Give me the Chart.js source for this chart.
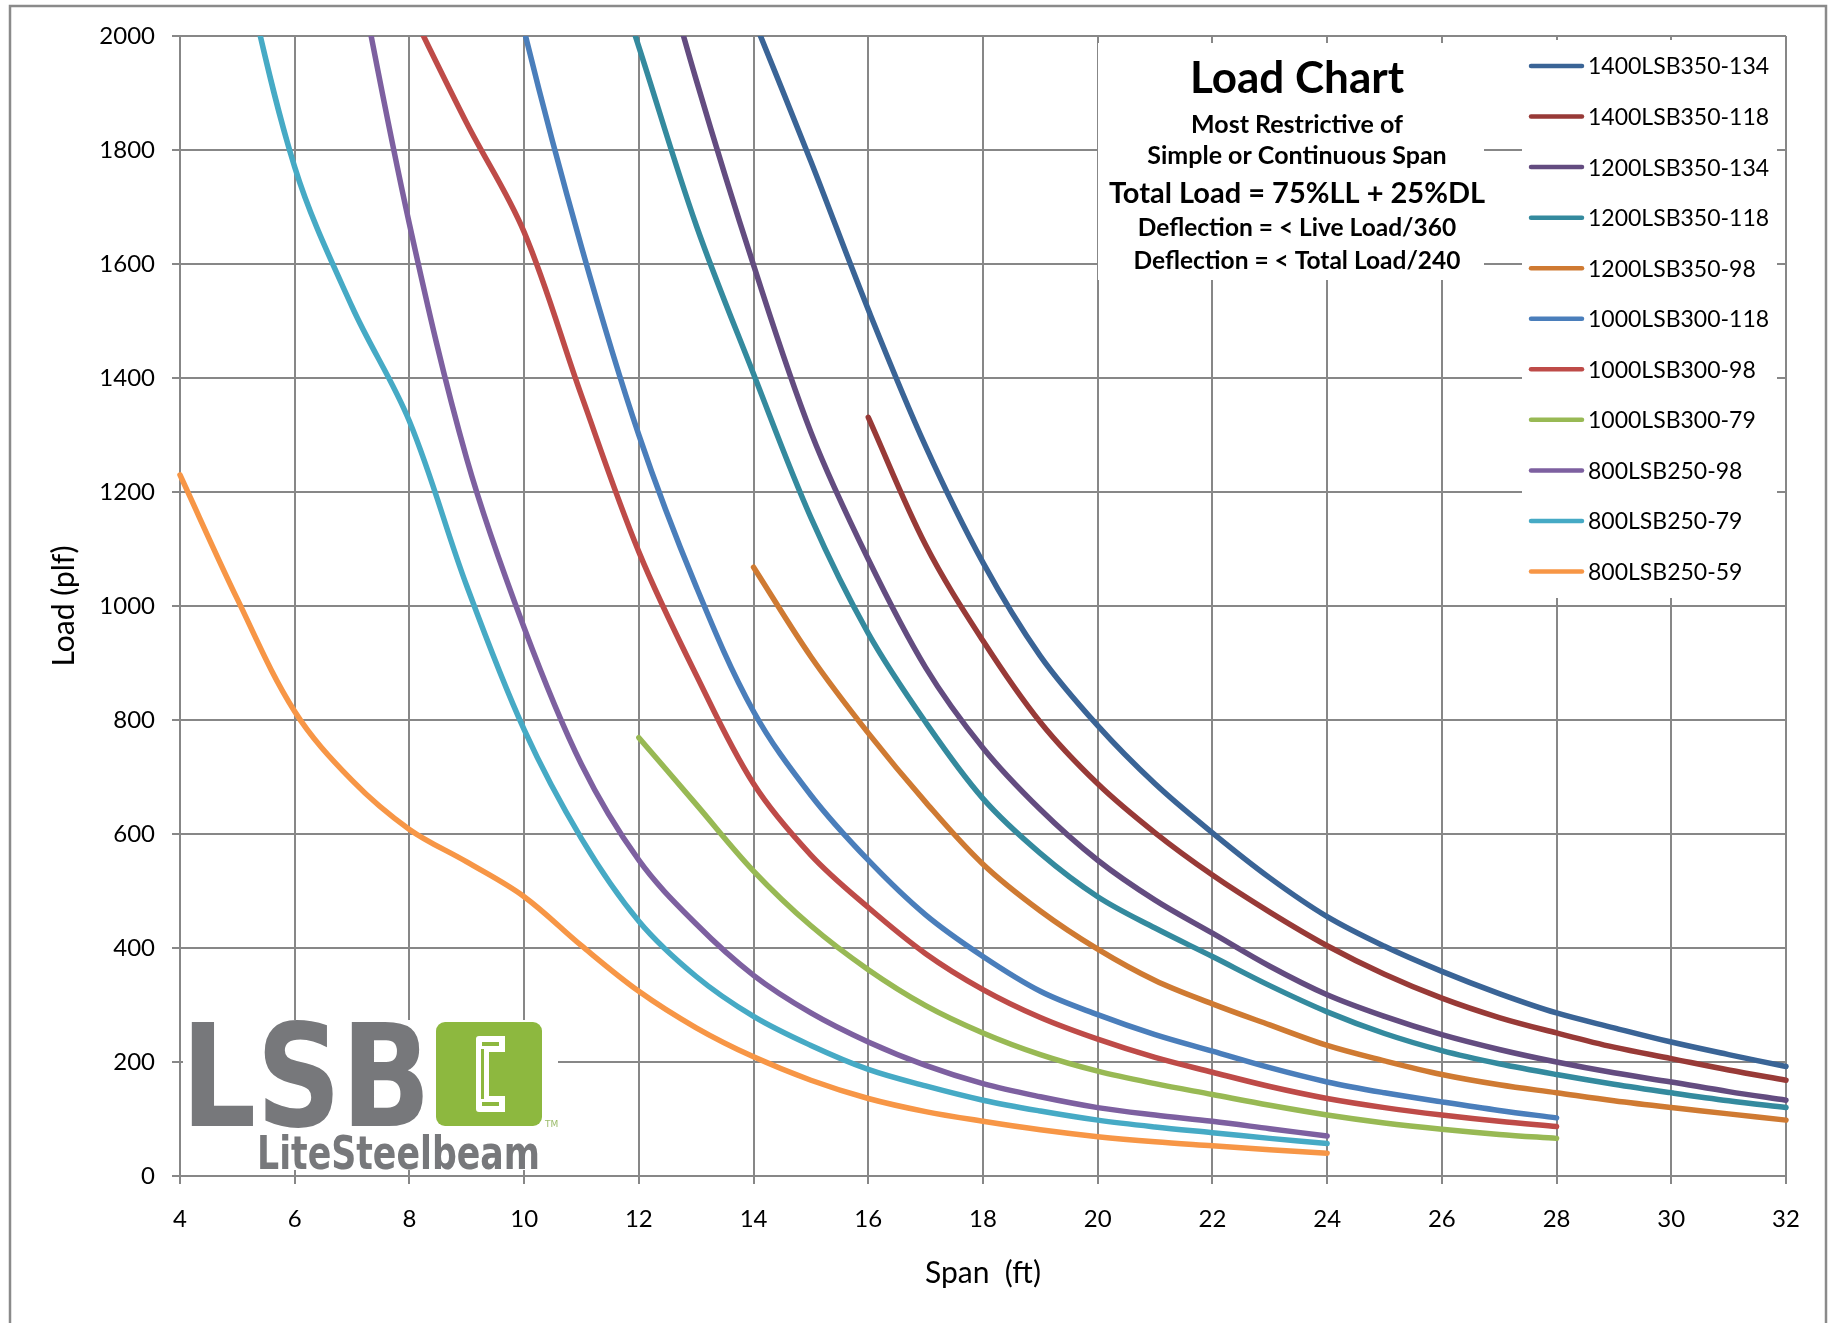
<!DOCTYPE html>
<html>
<head>
<meta charset="utf-8">
<script src="https://cdn.jsdelivr.net/npm/chart.js@4.4.1/dist/chart.umd.min.js"></script>
<style>
    html, body { margin: 0; padding: 0; background: #fff; }
    canvas { display: block; }
</style>
</head>
<body>
<canvas id="grafico-carga" width="1835" height="1323"></canvas>
<script>

const vaos = [4, 5, 6, 7, 8, 9, 10, 11, 12, 13, 14, 15, 16, 17, 18, 19, 20, 21, 22, 23, 24, 25, 26, 27, 28, 29, 30, 31, 32];

const rotulos = ['1400LSB350-134', '1400LSB350-118', '1200LSB350-134', '1200LSB350-118', '1200LSB350-98',
    '1000LSB300-118', '1000LSB300-98', '1000LSB300-79', '800LSB250-98', '800LSB250-79', '800LSB250-59'];

const cores = ['#3a6496', '#983a37', '#634c80', '#348a9e', '#cf7a32',
    '#4a7ebb', '#be4b48', '#98b954', '#7d60a0', '#46aac5', '#f79646'];

const yTicks = [0, 200, 400, 600, 800, 1000, 1200, 1400, 1600, 1800, 2000];

const carga1400_134 = [null, null, null, null, null, null, null, null, null, null,
    2030, 1780, 1520, 1280, 1076, 912, 790, 688, 602, 523, 455, 403, 359, 320, 286, 260, 235, 213, 192];
const carga1400_118 = [null, null, null, null, null, null, null, null, null, null, null, null,
    1331, 1107, 939, 796, 688, 602, 528, 463, 404, 354, 312, 278, 251, 226, 206, 186, 168];
const carga1200_134 = [null, null, null, null, null, null, null, null,
    2280, 1923, 1598, 1305, 1082, 892, 751, 643, 554, 484, 426, 368, 318, 280, 248, 222, 200, 181, 165, 148, 133];
const carga1200_118 = [null, null, null, null, null, null, null,
    2290, 1981, 1668, 1407, 1155, 952, 796, 662, 566, 490, 435, 385, 334, 288, 250, 220, 197, 178, 161, 146, 132, 120];
const carga1200_98 = [null, null, null, null, null, null, null, null, null, null,
    1068, 911, 777, 656, 547, 465, 398, 343, 302, 265, 229, 202, 178, 160, 146, 132, 120, 109, 98];
const carga1000_118 = [null, null, null, null, null,
    2450, 2010, 1630, 1300, 1034, 815, 668, 554, 458, 385, 324, 283, 248, 219, 190, 165, 146, 130, 115, 102,
    null, null, null, null];
const carga1000_98 = [null, null, null, null,
    2050, 1847, 1656, 1369, 1095, 879, 688, 563, 471, 390, 327, 278, 240, 208, 182, 157, 136, 120, 107, 96, 87,
    null, null, null, null];
const carga1000_79 = [null, null, null, null, null, null, null, null,
    769, 652, 535, 439, 362, 299, 251, 213, 184, 162, 143, 124, 107, 93, 82, 73, 66,
    null, null, null, null];
const carga800_98 = [null, null, null,
    2170, 1670, 1258, 962, 722, 554, 442, 352, 286, 235, 194, 162, 139, 120, 107, 96, 83, 70,
    null, null, null, null, null, null, null, null];
const carga800_79 = [null,
    2170, 1770, 1525, 1324, 1035, 783, 592, 447, 350, 280, 229, 187, 158, 133, 114, 98, 86, 76, 66, 57,
    null, null, null, null, null, null, null, null];
const carga800_59 = [1230, 1012, 815, 694, 608, 551, 490, 404, 324, 260, 209, 168, 136, 113, 96, 81, 69, 60, 53, 46, 40,
    null, null, null, null, null, null, null, null];

const cargas = [carga1400_134, carga1400_118, carga1200_134, carga1200_118, carga1200_98,
    carga1000_118, carga1000_98, carga1000_79, carga800_98, carga800_79, carga800_59];

const linhasTitulo = [
    { texto: 'Load Chart', fonte: 'bold 44px Lato', y: 93 },
    { texto: 'Most Restrictive of', fonte: 'bold 25px Lato', y: 133 },
    { texto: 'Simple or Continuous Span', fonte: 'bold 25px Lato', y: 164 },
    { texto: 'Total Load = 75%LL + 25%DL', fonte: 'bold 29px Lato', y: 203 },
    { texto: 'Deflection = < Live Load/360', fonte: 'bold 24.5px Lato', y: 236 },
    { texto: 'Deflection = < Total Load/240', fonte: 'bold 24.5px Lato', y: 269 }
];

const corGrade = '#878787';

function desenharLogo(ctx) {
    ctx.fillStyle = '#fff';
    ctx.fillRect(183, 1020, 375, 150);

    ctx.fillStyle = '#77787b';
    ctx.textAlign = 'left';
    ctx.textBaseline = 'alphabetic';
    ctx.font = 'bold 143px "DejaVu Sans"';
    ctx.fillText('LSB', 181, 1126, 250);

    // quadrado verde com o perfil
    ctx.fillStyle = '#8db83f';
    ctx.beginPath();
    ctx.roundRect(436, 1022, 106, 104, 9);
    ctx.fill();

    ctx.fillStyle = '#fff';
    ctx.beginPath();
    ctx.moveTo(479, 1036);
    ctx.lineTo(505, 1036);
    ctx.lineTo(505, 1052);
    ctx.lineTo(489, 1052);
    ctx.lineTo(489, 1096);
    ctx.lineTo(505, 1096);
    ctx.lineTo(505, 1112);
    ctx.lineTo(479, 1112);
    ctx.quadraticCurveTo(476, 1112, 476, 1109);
    ctx.lineTo(476, 1039);
    ctx.quadraticCurveTo(476, 1036, 479, 1036);
    ctx.fill();

    ctx.fillStyle = '#8db83f';
    ctx.fillRect(482, 1042, 17, 4);
    ctx.fillRect(482, 1102, 17, 4);
    ctx.fillRect(481, 1049, 3, 50);

    ctx.fillStyle = '#9bbb6a';
    ctx.font = '9px "DejaVu Sans"';
    ctx.fillText('TM', 545, 1127);

    ctx.fillStyle = '#77787b';
    ctx.font = 'bold 46px "DejaVu Sans"';
    ctx.fillText('LiteSteelbeam', 257, 1169, 283);
}

const extras = {
    id: 'extras',
    beforeDraw(chart) {
        const ctx = chart.ctx;
        ctx.save();
        ctx.fillStyle = '#fff';
        ctx.fillRect(0, 0, chart.width, chart.height);
        ctx.restore();
    },
    beforeDatasetsDraw(chart) {
        const ctx = chart.ctx;
        ctx.save();

        // caixas brancas do titulo e da legenda
        ctx.fillStyle = '#fff';
        ctx.fillRect(1098, 43, 386, 237);
        ctx.fillRect(1522, 40, 255, 558);

        desenharLogo(ctx);

        ctx.fillStyle = '#000';
        ctx.textAlign = 'center';
        ctx.textBaseline = 'alphabetic';
        linhasTitulo.forEach(linha => {
            ctx.font = linha.fonte;
            ctx.fillText(linha.texto, 1297, linha.y, 380);
        });

        // legenda
        chart.data.datasets.forEach((ds, i) => {
            const y = 66 + i * 50.55;
            ctx.strokeStyle = ds.borderColor;
            ctx.lineWidth = 4.5;
            ctx.lineCap = 'round';
            ctx.beginPath();
            ctx.moveTo(1531, y);
            ctx.lineTo(1582, y);
            ctx.stroke();
            ctx.fillStyle = '#000';
            ctx.font = '23px Lato';
            ctx.textAlign = 'left';
            ctx.textBaseline = 'middle';
            ctx.fillText(ds.label, 1588, y + 1);
        });

        ctx.restore();
    },
    afterDraw(chart) {
        const ctx = chart.ctx;
        ctx.save();
        ctx.strokeStyle = '#8a8a8a';
        ctx.lineWidth = 2.5;
        ctx.strokeRect(10, 6, 1816, 1400);
        ctx.restore();
    }
};

const ctx = document.getElementById('grafico-carga').getContext('2d');

const datasets = rotulos.map((rotulo, i) => ({
    label: rotulo,
    data: cargas[i],
    borderColor: cores[i],
    backgroundColor: cores[i],
    borderWidth: 5.5,
    pointRadius: 0,
    fill: false,
    clip: { left: 10, top: 0, right: 10, bottom: 10 }
}));

new Chart(ctx, {
    type: 'line',
    data: {
        labels: vaos,
        datasets: datasets
    },
    options: {
        responsive: false,
        animation: false,
        layout: {
            padding: { left: 0, top: 36, right: 49, bottom: 0 }
        },
        elements: {
            line: {
                tension: 0.35,
                capBezierPoints: false,
                borderCapStyle: 'round',
                borderJoinStyle: 'round'
            }
        },
        plugins: {
            legend: { display: false },
            tooltip: { enabled: false }
        },
        scales: {
            x: {
                type: 'linear',
                min: 4,
                max: 32,
                ticks: {
                    stepSize: 2,
                    color: '#000',
                    padding: 21,
                    font: { family: 'Lato', size: 24 }
                },
                grid: { color: corGrade, lineWidth: 2, tickLength: 8 },
                border: { color: corGrade, width: 2 },
                title: {
                    display: true,
                    text: 'Span  (ft)',
                    color: '#000',
                    font: { family: 'Lato', size: 30 },
                    padding: { top: 0, bottom: 32 }
                },
                afterFit: function (scale) {
                    scale.height = 147;
                }
            },
            y: {
                min: 0,
                max: 2000,
                afterBuildTicks: function (scale) {
                    scale.ticks = yTicks.map(v => ({ value: v }));
                },
                ticks: {
                    color: '#000',
                    padding: 17,
                    font: { family: 'Lato', size: 24 },
                    callback: function (valor) {
                        return String(valor);
                    }
                },
                grid: { color: corGrade, lineWidth: 2, tickLength: 8 },
                border: { color: corGrade, width: 2 },
                title: {
                    display: true,
                    text: 'Load (plf)',
                    color: '#000',
                    font: { family: 'Lato', size: 30 },
                    padding: { top: 46, bottom: 0 }
                },
                afterFit: function (scale) {
                    scale.width = 180;
                }
            }
        }
    },
    plugins: [extras]
});
</script>
</body>
</html>
